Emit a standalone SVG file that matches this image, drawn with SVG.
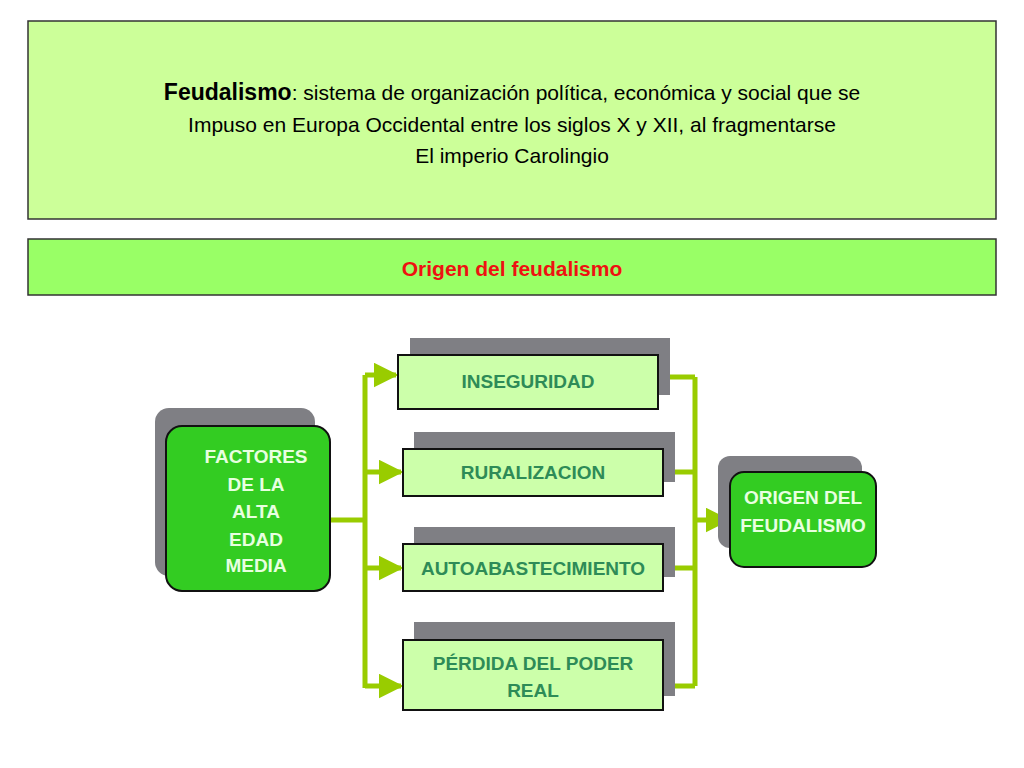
<svg xmlns="http://www.w3.org/2000/svg" width="1024" height="768" viewBox="0 0 1024 768">
<defs>
<style>
.t{font-family:"Liberation Sans",Arial,sans-serif}
.sh{fill:#7f7f84}
.lb{fill:#ccffaa;stroke:#111;stroke-width:2}
.gb{fill:#33cc22;stroke:#111;stroke-width:2}
.lt{font-family:"Liberation Sans",Arial,sans-serif;font-size:19px;font-weight:bold;fill:#2e8b57;text-anchor:middle}
.wt{font-family:"Liberation Sans",Arial,sans-serif;font-size:19px;font-weight:bold;fill:#e8ffe0;text-anchor:middle}
.c{stroke:#99cc00;stroke-width:5;fill:none}
</style>
<marker id="ah" viewBox="0 0 10 10" refX="9" refY="5" markerWidth="5" markerHeight="5" orient="auto" markerUnits="strokeWidth"><path d="M0,0L10,5L0,10z" fill="#99cc00"/></marker>
</defs>
<rect width="1024" height="768" fill="#fff"/>
<g id="header">
<rect x="28" y="21" width="968" height="198" fill="#ccff99" stroke="#333" stroke-width="1.5"/>
<text class="t" font-size="21" text-anchor="middle"><tspan x="512" y="100"><tspan font-weight="bold" font-size="23">Feudalismo</tspan>: sistema de organización política, económica y social que se</tspan><tspan x="512" y="132">Impuso en Europa Occidental entre los siglos X  y XII, al fragmentarse</tspan><tspan x="512" y="163">El imperio Carolingio</tspan></text>
</g>
<g id="title">
<rect x="28" y="239" width="968" height="56" fill="#99ff66" stroke="#333" stroke-width="1.5"/>
<text class="t" x="512" y="276" font-size="21" font-weight="bold" fill="#ee1111" text-anchor="middle">Origen del feudalismo</text>
</g>
<g id="connectors">
<path class="c" d="M330,520H365M365,375V688"/>
<path class="c" d="M365,375H396" marker-end="url(#ah)"/>
<path class="c" d="M365,472H401" marker-end="url(#ah)"/>
<path class="c" d="M365,568H401" marker-end="url(#ah)"/>
<path class="c" d="M365,686H401" marker-end="url(#ah)"/>
<path class="c" d="M670,377H695M675,472H695M675,568H695M675,686H695M695,377V686"/>
<path class="c" d="M695,520H728" marker-end="url(#ah)"/>
</g>
<g id="factores">
<rect class="sh" x="155" y="408" width="160" height="168" rx="14"/>
<rect class="gb" x="166" y="426" width="164" height="165" rx="16"/>
<text class="wt"><tspan x="256" y="463">FACTORES</tspan><tspan x="256" y="491">DE LA</tspan><tspan x="256" y="518">ALTA</tspan><tspan x="256" y="546">EDAD</tspan><tspan x="256" y="572">MEDIA</tspan></text>
</g>
<g id="inseguridad">
<rect class="sh" x="410" y="338" width="260" height="57"/>
<rect class="lb" x="398" y="355" width="260" height="54"/>
<text class="lt" x="528" y="388">INSEGURIDAD</text>
</g>
<g id="ruralizacion">
<rect class="sh" x="414" y="432" width="261" height="50"/>
<rect class="lb" x="403" y="449" width="260" height="47"/>
<text class="lt" x="533" y="479">RURALIZACION</text>
</g>
<g id="autoabastecimiento">
<rect class="sh" x="414" y="527" width="261" height="50"/>
<rect class="lb" x="403" y="544" width="260" height="47"/>
<text class="lt" x="533" y="575">AUTOABASTECIMIENTO</text>
</g>
<g id="perdida">
<rect class="sh" x="414" y="622" width="261" height="74"/>
<rect class="lb" x="403" y="640" width="260" height="70"/>
<text class="lt"><tspan x="533" y="670">PÉRDIDA DEL PODER</tspan><tspan x="533" y="697">REAL</tspan></text>
</g>
<g id="origen">
<rect class="sh" x="718" y="456" width="144" height="92" rx="12"/>
<rect class="gb" x="730" y="472" width="146" height="95" rx="14"/>
<text class="wt" font-size="18"><tspan x="803" y="504">ORIGEN DEL</tspan><tspan x="803" y="532">FEUDALISMO</tspan></text>
</g>
</svg>
